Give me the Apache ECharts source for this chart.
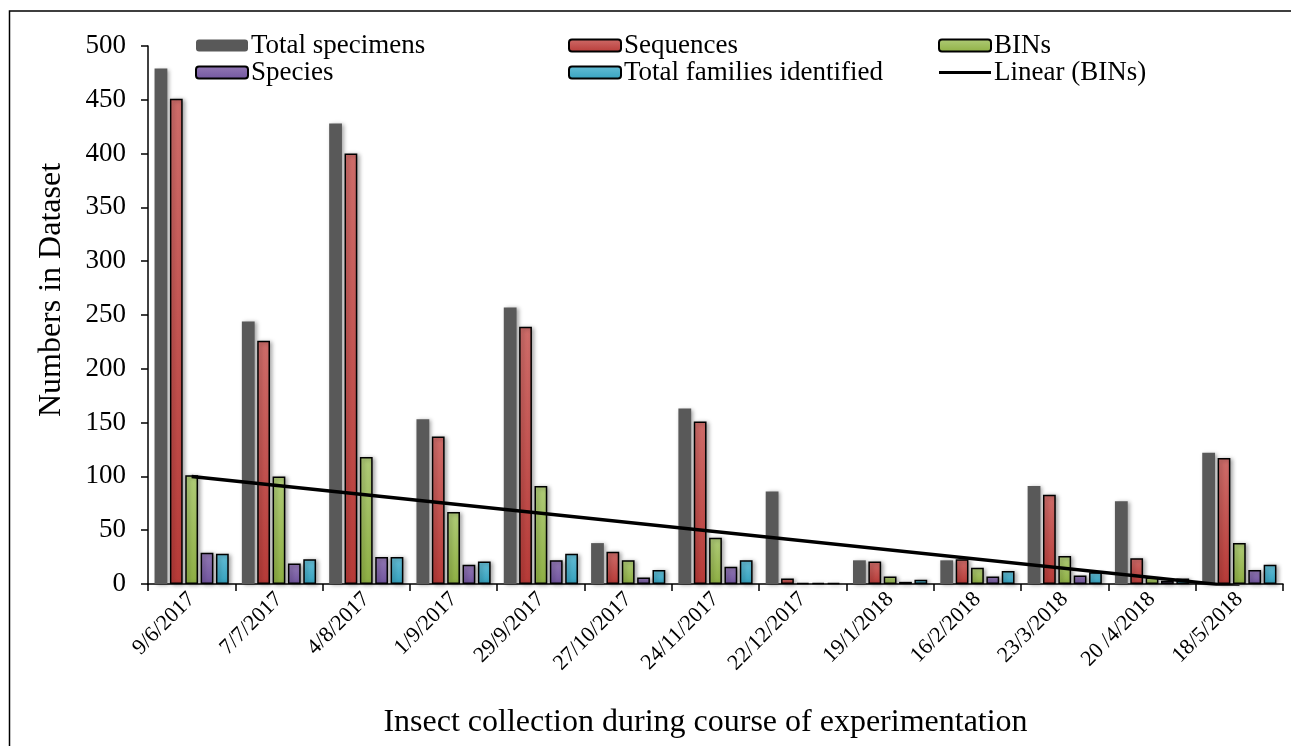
<!DOCTYPE html>
<html>
<head>
<meta charset="utf-8">
<script src="https://cdn.jsdelivr.net/npm/echarts@6/dist/echarts.min.js"></script>
<style>
html,body{margin:0;padding:0;background:#fff;}
#chart{width:1291px;height:746px;}
</style>
</head>
<body>
<div id="chart"></div>
<script>
const categories = ['9/6/2017','7/7/2017','4/8/2017','1/9/2017','29/9/2017','27/10/2017','24/11/2017','22/12/2017','19/1/2018','16/2/2018','23/3/2018','20 /4/2018','18/5/2018'];
const totalSpecimens = [479, 244, 428, 153, 257, 38, 163, 86, 22, 22, 91, 77, 122];
const sequences      = [451, 226, 400, 137, 239, 30, 151, 5, 21, 23, 83, 24, 117];
const bins           = [101, 100, 118, 67, 91, 22, 43, 1, 7, 15, 26, 6, 38];
const species        = [29, 19, 25, 18, 22, 6, 16, 1, 2, 7, 8, 3, 13];
const families       = [28, 23, 25, 21, 28, 13, 22, 1, 4, 12, 11, 5, 18];
// Linear (BINs) trendline end points (first and last category)
const linearBinsEnds = [100, -2.5];
const yTicks = [0, 50, 100, 150, 200, 250, 300, 350, 400, 450, 500];

const font = '"Liberation Serif", "Times New Roman", serif';

function grad(top, bottom) {
  return new echarts.graphic.LinearGradient(0, 0, 0, 1, [
    {offset: 0, color: top}, {offset: 1, color: bottom}
  ]);
}
const shadow = {shadowColor: 'rgba(0,0,0,0.35)', shadowBlur: 4, shadowOffsetX: 2, shadowOffsetY: 1};

function barSeries(name, data, fill, border) {
  return {
    name: name, type: 'bar', data: data,
    barGap: '20%', barCategoryGap: '15%',
    itemStyle: Object.assign({color: fill, borderColor: border, borderWidth: border ? 1.5 : 0}, shadow),
    emphasis: {disabled: true}
  };
}

const chart = echarts.init(document.getElementById('chart'), null, {renderer: 'canvas'});
const legendCommon = {
  orient: 'vertical', top: 32, itemWidth: 52, itemHeight: 12, itemGap: 0,
  textStyle: {fontFamily: font, fontSize: 27, lineHeight: 26, color: '#000', padding: [0, 0, 0, -2]},
  padding: 0, selectedMode: false
};
chart.setOption({
  animation: false,
  backgroundColor: '#fff',
  graphic: [{
    type: 'rect', shape: {x: 9.5, y: 11, width: 1400, height: 800},
    style: {fill: 'none', stroke: '#000', lineWidth: 1.5}, silent: true, z: 100
  }],
  grid: {left: 148, right: 8, top: 46, bottom: 162, containLabel: false},
  legend: [
    Object.assign({}, legendCommon, {left: 195, data: ['Total specimens', 'Species']}),
    Object.assign({}, legendCommon, {left: 568, data: ['Sequences', 'Total families identified']}),
    Object.assign({}, legendCommon, {left: 938, data: ['BINs', {name: 'Linear (BINs)', icon: 'path://M0,0 L52,0 L52,3 L0,3 Z'}]})
  ],
  xAxis: {
    type: 'category', data: categories,
    name: 'Insect collection during course of experimentation',
    nameLocation: 'middle', nameGap: 123,
    nameTextStyle: {fontFamily: font, fontSize: 32, color: '#000', padding: [0, 20, 0, 0]},
    axisLine: {lineStyle: {color: '#000', width: 1.5}},
    axisTick: {show: true, length: 7, lineStyle: {color: '#000', width: 1.5}, alignWithLabel: false},
    axisLabel: {rotate: 45, margin: 12, fontFamily: font, fontSize: 22, color: '#000', interval: 0}
  },
  yAxis: {
    type: 'value', min: yTicks[0], max: yTicks[yTicks.length - 1], interval: yTicks[1] - yTicks[0],
    name: 'Numbers in Dataset', nameLocation: 'middle', nameGap: 80, nameRotate: 90,
    nameTextStyle: {fontFamily: font, fontSize: 32, color: '#000', padding: [0, 0, 0, 50]},
    axisLine: {show: true, lineStyle: {color: '#000', width: 1.5}},
    axisTick: {show: true, length: 7, lineStyle: {color: '#000', width: 1.5}},
    splitLine: {show: false},
    axisLabel: {margin: 22, fontFamily: font, fontSize: 27, color: '#000'}
  },
  series: [
    barSeries('Total specimens', totalSpecimens, '#595959', null),
    barSeries('Sequences', sequences, grad('#cf6d6a', '#b83b38'), '#000'),
    barSeries('BINs', bins, grad('#b0cc78', '#8fb044'), '#000'),
    barSeries('Species', species, grad('#9379b5', '#7256a0'), '#000'),
    barSeries('Total families identified', families, grad('#66bed6', '#35a2bf'), '#000'),
    {
      name: 'Linear (BINs)', type: 'line',
      data: [[0, linearBinsEnds[0]], [categories.length - 1, linearBinsEnds[1]]],
      symbol: 'none', clip: true, z: 10,
      lineStyle: {color: '#000', width: 3.5},
      itemStyle: {color: '#000'},
      emphasis: {disabled: true}
    }
  ]
});
</script>
</body>
</html>
